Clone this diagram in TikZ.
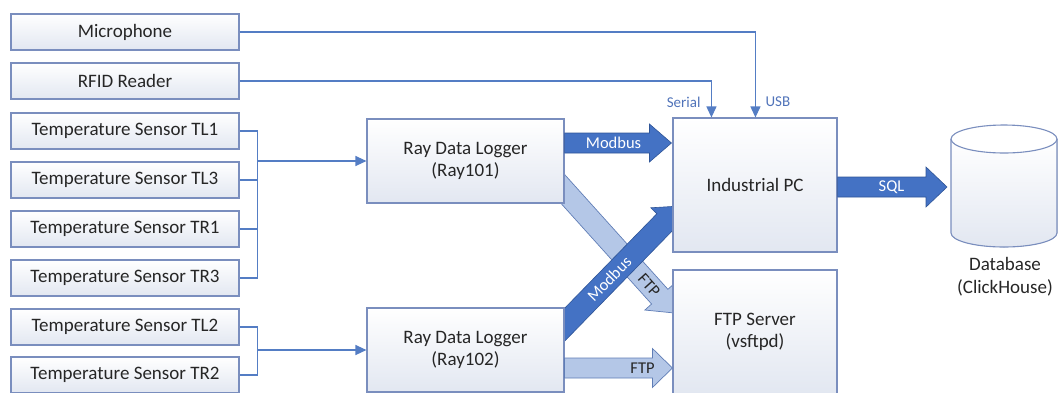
\documentclass[tikz,border=0pt]{standalone}
\usepackage{fontspec}
\setmainfont{Carlito}
\usetikzlibrary{arrows.meta,calc,backgrounds}
\definecolor{boxc}{RGB}{122,142,190}
\definecolor{boxf}{RGB}{226,231,241}
\definecolor{txt}{RGB}{38,38,38}
\definecolor{conncol}{RGB}{84,125,196}
\definecolor{lblcol}{RGB}{80,115,185}
\definecolor{darkfill}{RGB}{68,114,196}
\definecolor{darkline}{RGB}{47,85,151}
\definecolor{lightfill}{RGB}{180,199,231}
\definecolor{lightline}{RGB}{95,125,182}
\newcommand{\fatarrow}[6]{%
  \coordinate (fa-h) at ($(#3)!#6!(#2)$);
  \draw[#1] ($(#2)!#4!90:(#3)$) -- ($(fa-h)!#4!90:(#3)$) -- ($(fa-h)!#5!90:(#3)$) -- (#3)
    -- ($(fa-h)!#5!-90:(#3)$) -- ($(fa-h)!#4!-90:(#3)$) -- ($(#2)!#4!-90:(#3)$) -- cycle;}
\tikzset{
  box/.style={draw=boxc, line width=1.1pt, top color=white, bottom color=boxf,
    inner sep=0pt, align=center, text=txt, font=\fontsize{19}{22}\selectfont},
  sensor/.style={box, minimum width=228pt, minimum height=36pt},
  conn/.style={draw=conncol, line width=1.2pt},
  tip/.style={-{Triangle[length=11pt,width=10pt]}},
  darkarrow/.style={fill=darkfill, draw=darkline, line width=0.6pt},
  lightarrow/.style={fill=lightfill, draw=lightline, line width=0.7pt},
  whitelbl/.style={text=white, font=\fontsize{16.5}{18}\selectfont},
  darklbl/.style={text=txt, font=\fontsize{16.5}{18}\selectfont},
  portlbl/.style={text=lblcol, font=\fontsize{15}{16}\selectfont},
  cyl/.style={draw=boxc, line width=1.1pt}
}
\begin{document}
\begin{tikzpicture}[x=1pt,y=-1pt]
\useasboundingbox (0,0) rectangle (1058,392);
% sensors
\node[sensor] (mic)  at (125,32)  {Microphone};
\node[sensor] (rfid) at (125,81)  {RFID Reader};
\node[sensor] (tl1)  at (125,131) {Temperature Sensor TL1};
\node[sensor] (tl3)  at (125,180) {Temperature Sensor TL3};
\node[sensor] (tr1)  at (125,229) {Temperature Sensor TR1};
\node[sensor] (tr3)  at (125,278) {Temperature Sensor TR3};
\node[sensor] (tl2)  at (125,327) {Temperature Sensor TL2};
\node[sensor] (tr2)  at (125,375) {Temperature Sensor TR2};
% loggers, pc, ftp
\node[box, minimum width=197pt, minimum height=84pt] (ray1) at (465.5,161) {Ray Data Logger\\(Ray101)};
\node[box, minimum width=197pt, minimum height=84pt] (ray2) at (465.5,350) {Ray Data Logger\\(Ray102)};
\node[box, minimum width=164pt, minimum height=134pt] (ipc) at (755,185) {Industrial PC};
\node[box, minimum width=164pt, minimum height=124pt] (ftp) at (755,332) {FTP Server\\(vsftpd)};
% database
\coordinate (dbw) at (947,187);
\fill[top color=white, bottom color=boxf] (951,139) -- (951,233) arc[start angle=180, end angle=360, x radius=53pt, y radius=14pt] -- (1057,139) -- cycle;
\draw[cyl] (951,139) -- (951,233) arc[start angle=180, end angle=360, x radius=53pt, y radius=14pt] -- (1057,139);
\draw[cyl, fill=white] (1004,139) ellipse [x radius=53pt, y radius=14pt];
\node[align=center, text=txt, font=\fontsize{19}{23}\selectfont] (dblbl) at (1005,277) {Database\\(ClickHouse)};
% thin connectors
\draw[conn] (tl1.east) -- ++(18,0) |- (tr3.east);
\draw[conn] (tl3.east) -- ++(18,0);
\draw[conn] (tr1.east) -- ++(18,0);
\coordinate (j1) at ($(tl1.east)+(18,30)$);
\draw[conn, tip] (j1) -- (ray1.west);
\draw[conn] (tl2.east) -- ++(18,0) |- (tr2.east);
\coordinate (j2) at ($(tl2.east)+(18,23)$);
\draw[conn, tip] (j2) -- (ray2.west);
\coordinate (usbin) at ($(ipc.north west)+(83,0)$);
\coordinate (serin) at ($(ipc.north west)+(39,0)$);
\draw[conn, tip] (mic.east) -| (usbin);
\draw[conn, tip] (rfid.east) -| (serin);
\node[portlbl, anchor=east] (serlbl) at (704,102) {Serial};
\node[portlbl, anchor=west] (usblbl) at (762,102) {USB};
% fat arrows behind boxes
\begin{scope}[on background layer]
  \coordinate (fA) at ([xshift=-8pt,yshift=-21pt]ray1.east);
  \coordinate (fB) at ([xshift=2pt,yshift=19pt]ftp.west);
  \fatarrow{lightarrow}{fA}{fB}{11pt}{20pt}{22pt}
  \path (fA) -- (fB) node[darklbl, sloped, pos=0.785] (ftplbl2) {FTP};
  \coordinate (mA) at ([xshift=-9pt,yshift=16pt]ray2.east);
  \coordinate (mB) at ([xshift=8pt,yshift=-21pt]ipc.west);
  \fatarrow{darkarrow}{mA}{mB}{11.5pt}{20pt}{22pt}
  \path (mA) -- (mB) node[whitelbl, sloped, pos=0.43] (modlbl2) {Modbus};
\end{scope}
\coordinate (hA) at ([yshift=18pt]ray1.east);
\coordinate (hB) at ([xshift=-1pt]ipc.west |- hA);
\fatarrow{darkarrow}{hA}{hB}{10pt}{19pt}{22pt}
\node[whitelbl] (modlbl) at ($(hA)+(49,0)$) {Modbus};
\coordinate (sA) at ([yshift=-2pt]ipc.east);
\fatarrow{darkarrow}{sA}{dbw}{10pt}{20pt}{21pt}
\node[whitelbl] (sqllbl) at ($(sA)+(54,0)$) {SQL};
\coordinate (tA) at ([yshift=-18pt]ray2.east);
\coordinate (tB) at (ftp.west |- tA);
\fatarrow{lightarrow}{tA}{tB}{10pt}{19.5pt}{20pt}
\node[darklbl] (ftplbl) at ($(tA)+(78,0)$) {FTP};
\end{tikzpicture}
\end{document}
